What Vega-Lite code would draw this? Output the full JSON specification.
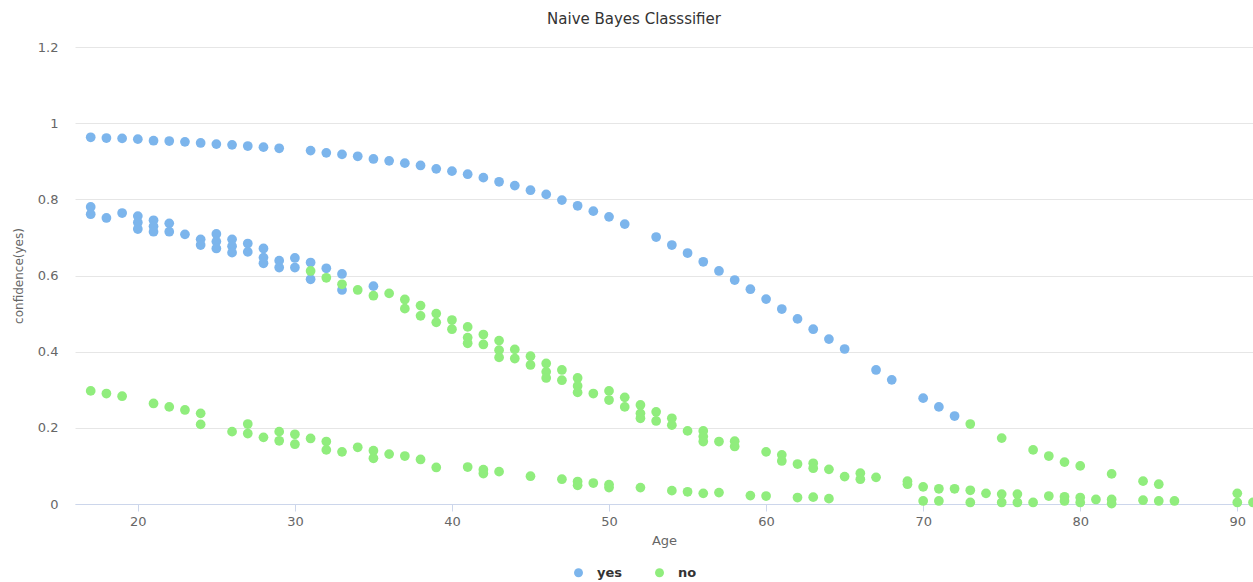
{
  "$schema": "https://vega.github.io/schema/vega-lite/v6.json",
  "autosize": "none",
  "width": 1178,
  "height": 457,
  "padding": {"left": 75, "top": 47, "right": 0, "bottom": 78},
  "background": "white",
  "config": {
    "view": {"stroke": null},
    "font": "DejaVu Sans"
  },
  "title": {
    "text": "Naive Bayes Classsifier",
    "fontSize": 15,
    "fontWeight": "normal",
    "color": "#333333",
    "anchor": "middle",
    "dx": -30,
    "offset": 14,
    "font": "DejaVu Sans"
  },
  "data": {
    "values": [
      {"age": 17, "conf": 0.963, "label": "yes"},
      {"age": 18, "conf": 0.961, "label": "yes"},
      {"age": 19, "conf": 0.960, "label": "yes"},
      {"age": 20, "conf": 0.958, "label": "yes"},
      {"age": 21, "conf": 0.954, "label": "yes"},
      {"age": 22, "conf": 0.953, "label": "yes"},
      {"age": 23, "conf": 0.951, "label": "yes"},
      {"age": 24, "conf": 0.948, "label": "yes"},
      {"age": 25, "conf": 0.945, "label": "yes"},
      {"age": 26, "conf": 0.943, "label": "yes"},
      {"age": 27, "conf": 0.940, "label": "yes"},
      {"age": 28, "conf": 0.937, "label": "yes"},
      {"age": 29, "conf": 0.934, "label": "yes"},
      {"age": 31, "conf": 0.928, "label": "yes"},
      {"age": 32, "conf": 0.922, "label": "yes"},
      {"age": 33, "conf": 0.918, "label": "yes"},
      {"age": 34, "conf": 0.913, "label": "yes"},
      {"age": 35, "conf": 0.906, "label": "yes"},
      {"age": 36, "conf": 0.901, "label": "yes"},
      {"age": 37, "conf": 0.895, "label": "yes"},
      {"age": 38, "conf": 0.889, "label": "yes"},
      {"age": 39, "conf": 0.880, "label": "yes"},
      {"age": 40, "conf": 0.874, "label": "yes"},
      {"age": 41, "conf": 0.866, "label": "yes"},
      {"age": 42, "conf": 0.857, "label": "yes"},
      {"age": 43, "conf": 0.846, "label": "yes"},
      {"age": 44, "conf": 0.836, "label": "yes"},
      {"age": 45, "conf": 0.824, "label": "yes"},
      {"age": 46, "conf": 0.813, "label": "yes"},
      {"age": 47, "conf": 0.798, "label": "yes"},
      {"age": 48, "conf": 0.783, "label": "yes"},
      {"age": 49, "conf": 0.769, "label": "yes"},
      {"age": 50, "conf": 0.754, "label": "yes"},
      {"age": 51, "conf": 0.735, "label": "yes"},
      {"age": 53, "conf": 0.701, "label": "yes"},
      {"age": 54, "conf": 0.680, "label": "yes"},
      {"age": 55, "conf": 0.659, "label": "yes"},
      {"age": 56, "conf": 0.636, "label": "yes"},
      {"age": 57, "conf": 0.612, "label": "yes"},
      {"age": 58, "conf": 0.588, "label": "yes"},
      {"age": 59, "conf": 0.564, "label": "yes"},
      {"age": 60, "conf": 0.538, "label": "yes"},
      {"age": 61, "conf": 0.512, "label": "yes"},
      {"age": 62, "conf": 0.486, "label": "yes"},
      {"age": 63, "conf": 0.459, "label": "yes"},
      {"age": 64, "conf": 0.433, "label": "yes"},
      {"age": 65, "conf": 0.407, "label": "yes"},
      {"age": 67, "conf": 0.352, "label": "yes"},
      {"age": 68, "conf": 0.326, "label": "yes"},
      {"age": 70, "conf": 0.278, "label": "yes"},
      {"age": 71, "conf": 0.255, "label": "yes"},
      {"age": 72, "conf": 0.231, "label": "yes"},
      {"age": 17, "conf": 0.780, "label": "yes"},
      {"age": 17, "conf": 0.761, "label": "yes"},
      {"age": 18, "conf": 0.751, "label": "yes"},
      {"age": 19, "conf": 0.764, "label": "yes"},
      {"age": 20, "conf": 0.756, "label": "yes"},
      {"age": 20, "conf": 0.739, "label": "yes"},
      {"age": 20, "conf": 0.722, "label": "yes"},
      {"age": 21, "conf": 0.745, "label": "yes"},
      {"age": 21, "conf": 0.729, "label": "yes"},
      {"age": 21, "conf": 0.715, "label": "yes"},
      {"age": 22, "conf": 0.737, "label": "yes"},
      {"age": 22, "conf": 0.715, "label": "yes"},
      {"age": 23, "conf": 0.708, "label": "yes"},
      {"age": 24, "conf": 0.695, "label": "yes"},
      {"age": 24, "conf": 0.680, "label": "yes"},
      {"age": 25, "conf": 0.709, "label": "yes"},
      {"age": 25, "conf": 0.689, "label": "yes"},
      {"age": 25, "conf": 0.671, "label": "yes"},
      {"age": 26, "conf": 0.695, "label": "yes"},
      {"age": 26, "conf": 0.677, "label": "yes"},
      {"age": 26, "conf": 0.660, "label": "yes"},
      {"age": 27, "conf": 0.684, "label": "yes"},
      {"age": 27, "conf": 0.662, "label": "yes"},
      {"age": 28, "conf": 0.671, "label": "yes"},
      {"age": 28, "conf": 0.647, "label": "yes"},
      {"age": 28, "conf": 0.632, "label": "yes"},
      {"age": 29, "conf": 0.639, "label": "yes"},
      {"age": 29, "conf": 0.621, "label": "yes"},
      {"age": 30, "conf": 0.646, "label": "yes"},
      {"age": 30, "conf": 0.621, "label": "yes"},
      {"age": 31, "conf": 0.634, "label": "yes"},
      {"age": 31, "conf": 0.590, "label": "yes"},
      {"age": 32, "conf": 0.619, "label": "yes"},
      {"age": 33, "conf": 0.604, "label": "yes"},
      {"age": 33, "conf": 0.562, "label": "yes"},
      {"age": 35, "conf": 0.572, "label": "yes"},
      {"age": 73, "conf": 0.210, "label": "no"},
      {"age": 75, "conf": 0.173, "label": "no"},
      {"age": 77, "conf": 0.142, "label": "no"},
      {"age": 78, "conf": 0.126, "label": "no"},
      {"age": 79, "conf": 0.110, "label": "no"},
      {"age": 80, "conf": 0.100, "label": "no"},
      {"age": 82, "conf": 0.079, "label": "no"},
      {"age": 84, "conf": 0.060, "label": "no"},
      {"age": 85, "conf": 0.052, "label": "no"},
      {"age": 31, "conf": 0.612, "label": "no"},
      {"age": 32, "conf": 0.594, "label": "no"},
      {"age": 33, "conf": 0.577, "label": "no"},
      {"age": 34, "conf": 0.562, "label": "no"},
      {"age": 35, "conf": 0.547, "label": "no"},
      {"age": 36, "conf": 0.553, "label": "no"},
      {"age": 37, "conf": 0.537, "label": "no"},
      {"age": 37, "conf": 0.513, "label": "no"},
      {"age": 38, "conf": 0.521, "label": "no"},
      {"age": 38, "conf": 0.494, "label": "no"},
      {"age": 39, "conf": 0.500, "label": "no"},
      {"age": 39, "conf": 0.477, "label": "no"},
      {"age": 40, "conf": 0.483, "label": "no"},
      {"age": 40, "conf": 0.459, "label": "no"},
      {"age": 41, "conf": 0.465, "label": "no"},
      {"age": 41, "conf": 0.437, "label": "no"},
      {"age": 41, "conf": 0.422, "label": "no"},
      {"age": 42, "conf": 0.445, "label": "no"},
      {"age": 42, "conf": 0.419, "label": "no"},
      {"age": 43, "conf": 0.429, "label": "no"},
      {"age": 43, "conf": 0.404, "label": "no"},
      {"age": 43, "conf": 0.385, "label": "no"},
      {"age": 44, "conf": 0.406, "label": "no"},
      {"age": 44, "conf": 0.382, "label": "no"},
      {"age": 45, "conf": 0.388, "label": "no"},
      {"age": 45, "conf": 0.365, "label": "no"},
      {"age": 46, "conf": 0.369, "label": "no"},
      {"age": 46, "conf": 0.347, "label": "no"},
      {"age": 46, "conf": 0.331, "label": "no"},
      {"age": 47, "conf": 0.352, "label": "no"},
      {"age": 47, "conf": 0.325, "label": "no"},
      {"age": 48, "conf": 0.331, "label": "no"},
      {"age": 48, "conf": 0.310, "label": "no"},
      {"age": 48, "conf": 0.293, "label": "no"},
      {"age": 49, "conf": 0.290, "label": "no"},
      {"age": 50, "conf": 0.297, "label": "no"},
      {"age": 50, "conf": 0.273, "label": "no"},
      {"age": 51, "conf": 0.280, "label": "no"},
      {"age": 51, "conf": 0.255, "label": "no"},
      {"age": 52, "conf": 0.260, "label": "no"},
      {"age": 52, "conf": 0.238, "label": "no"},
      {"age": 52, "conf": 0.225, "label": "no"},
      {"age": 53, "conf": 0.242, "label": "no"},
      {"age": 53, "conf": 0.218, "label": "no"},
      {"age": 54, "conf": 0.225, "label": "no"},
      {"age": 54, "conf": 0.207, "label": "no"},
      {"age": 55, "conf": 0.192, "label": "no"},
      {"age": 56, "conf": 0.192, "label": "no"},
      {"age": 56, "conf": 0.177, "label": "no"},
      {"age": 56, "conf": 0.164, "label": "no"},
      {"age": 57, "conf": 0.164, "label": "no"},
      {"age": 58, "conf": 0.165, "label": "no"},
      {"age": 58, "conf": 0.151, "label": "no"},
      {"age": 60, "conf": 0.137, "label": "no"},
      {"age": 61, "conf": 0.129, "label": "no"},
      {"age": 61, "conf": 0.113, "label": "no"},
      {"age": 62, "conf": 0.105, "label": "no"},
      {"age": 63, "conf": 0.107, "label": "no"},
      {"age": 63, "conf": 0.094, "label": "no"},
      {"age": 64, "conf": 0.091, "label": "no"},
      {"age": 65, "conf": 0.072, "label": "no"},
      {"age": 66, "conf": 0.081, "label": "no"},
      {"age": 66, "conf": 0.065, "label": "no"},
      {"age": 67, "conf": 0.070, "label": "no"},
      {"age": 69, "conf": 0.060, "label": "no"},
      {"age": 69, "conf": 0.052, "label": "no"},
      {"age": 70, "conf": 0.045, "label": "no"},
      {"age": 71, "conf": 0.040, "label": "no"},
      {"age": 72, "conf": 0.040, "label": "no"},
      {"age": 73, "conf": 0.036, "label": "no"},
      {"age": 74, "conf": 0.028, "label": "no"},
      {"age": 75, "conf": 0.026, "label": "no"},
      {"age": 76, "conf": 0.026, "label": "no"},
      {"age": 78, "conf": 0.021, "label": "no"},
      {"age": 79, "conf": 0.019, "label": "no"},
      {"age": 80, "conf": 0.017, "label": "no"},
      {"age": 81, "conf": 0.012, "label": "no"},
      {"age": 82, "conf": 0.012, "label": "no"},
      {"age": 84, "conf": 0.010, "label": "no"},
      {"age": 85, "conf": 0.008, "label": "no"},
      {"age": 86, "conf": 0.008, "label": "no"},
      {"age": 90, "conf": 0.028, "label": "no"},
      {"age": 17, "conf": 0.297, "label": "no"},
      {"age": 18, "conf": 0.290, "label": "no"},
      {"age": 19, "conf": 0.283, "label": "no"},
      {"age": 21, "conf": 0.264, "label": "no"},
      {"age": 22, "conf": 0.255, "label": "no"},
      {"age": 23, "conf": 0.247, "label": "no"},
      {"age": 24, "conf": 0.238, "label": "no"},
      {"age": 24, "conf": 0.209, "label": "no"},
      {"age": 26, "conf": 0.190, "label": "no"},
      {"age": 27, "conf": 0.210, "label": "no"},
      {"age": 27, "conf": 0.185, "label": "no"},
      {"age": 28, "conf": 0.175, "label": "no"},
      {"age": 29, "conf": 0.190, "label": "no"},
      {"age": 29, "conf": 0.166, "label": "no"},
      {"age": 30, "conf": 0.183, "label": "no"},
      {"age": 30, "conf": 0.157, "label": "no"},
      {"age": 31, "conf": 0.172, "label": "no"},
      {"age": 32, "conf": 0.164, "label": "no"},
      {"age": 32, "conf": 0.142, "label": "no"},
      {"age": 33, "conf": 0.137, "label": "no"},
      {"age": 34, "conf": 0.149, "label": "no"},
      {"age": 35, "conf": 0.140, "label": "no"},
      {"age": 35, "conf": 0.120, "label": "no"},
      {"age": 36, "conf": 0.131, "label": "no"},
      {"age": 37, "conf": 0.126, "label": "no"},
      {"age": 38, "conf": 0.117, "label": "no"},
      {"age": 39, "conf": 0.096, "label": "no"},
      {"age": 41, "conf": 0.097, "label": "no"},
      {"age": 42, "conf": 0.090, "label": "no"},
      {"age": 42, "conf": 0.080, "label": "no"},
      {"age": 43, "conf": 0.085, "label": "no"},
      {"age": 45, "conf": 0.073, "label": "no"},
      {"age": 47, "conf": 0.065, "label": "no"},
      {"age": 48, "conf": 0.059, "label": "no"},
      {"age": 48, "conf": 0.049, "label": "no"},
      {"age": 49, "conf": 0.055, "label": "no"},
      {"age": 50, "conf": 0.051, "label": "no"},
      {"age": 50, "conf": 0.043, "label": "no"},
      {"age": 52, "conf": 0.043, "label": "no"},
      {"age": 54, "conf": 0.035, "label": "no"},
      {"age": 55, "conf": 0.032, "label": "no"},
      {"age": 56, "conf": 0.028, "label": "no"},
      {"age": 57, "conf": 0.030, "label": "no"},
      {"age": 59, "conf": 0.022, "label": "no"},
      {"age": 60, "conf": 0.021, "label": "no"},
      {"age": 62, "conf": 0.017, "label": "no"},
      {"age": 63, "conf": 0.018, "label": "no"},
      {"age": 64, "conf": 0.014, "label": "no"},
      {"age": 70, "conf": 0.008, "label": "no"},
      {"age": 71, "conf": 0.008, "label": "no"},
      {"age": 73, "conf": 0.004, "label": "no"},
      {"age": 75, "conf": 0.004, "label": "no"},
      {"age": 76, "conf": 0.004, "label": "no"},
      {"age": 77, "conf": 0.004, "label": "no"},
      {"age": 79, "conf": 0.008, "label": "no"},
      {"age": 80, "conf": 0.004, "label": "no"},
      {"age": 82, "conf": 0.001, "label": "no"},
      {"age": 90, "conf": 0.004, "label": "no"},
      {"age": 91, "conf": 0.004, "label": "no"}
    ]
  },
  "mark": {"type": "point", "filled": true, "shape": "circle", "size": 95, "opacity": 1},
  "encoding": {
    "x": {
      "field": "age",
      "type": "quantitative",
      "title": "Age",
      "scale": {"domain": [16, 91], "nice": false, "zero": false},
      "axis": {
        "values": [20, 30, 40, 50, 60, 70, 80, 90],
        "grid": false,
        "domainColor": "#ccd6eb",
        "tickColor": "#ccd6eb",
        "tickSize": 7,
        "labelFontSize": 13,
        "labelColor": "#666666",
        "labelPadding": 4,
        "titleFontSize": 13,
        "titleFontWeight": "normal",
        "titleColor": "#666666",
        "titlePadding": 6
      }
    },
    "y": {
      "field": "conf",
      "type": "quantitative",
      "title": "confidence(yes)",
      "scale": {"domain": [0, 1.2], "nice": false},
      "axis": {
        "values": [0, 0.2, 0.4, 0.6, 0.8, 1, 1.2],
        "format": "~g",
        "grid": true,
        "gridColor": "#e6e6e6",
        "domain": false,
        "ticks": false,
        "labelFontSize": 13,
        "labelColor": "#666666",
        "labelPadding": 17,
        "titleFontSize": 12,
        "titleFontWeight": "normal",
        "titleColor": "#666666",
        "titlePadding": 12
      }
    },
    "color": {
      "field": "label",
      "type": "nominal",
      "sort": ["yes", "no"],
      "scale": {"domain": ["yes", "no"], "range": ["#7cb5ec", "#90ed7d"]},
      "legend": {
        "title": null,
        "orient": "none",
        "direction": "horizontal",
        "legendX": 497,
        "legendY": 519,
        "symbolType": "circle",
        "symbolSize": 80,
        "labelFontSize": 13,
        "labelFontWeight": "bold",
        "labelColor": "#333333",
        "columnPadding": 30,
        "labelOffset": 12
      }
    }
  }
}
